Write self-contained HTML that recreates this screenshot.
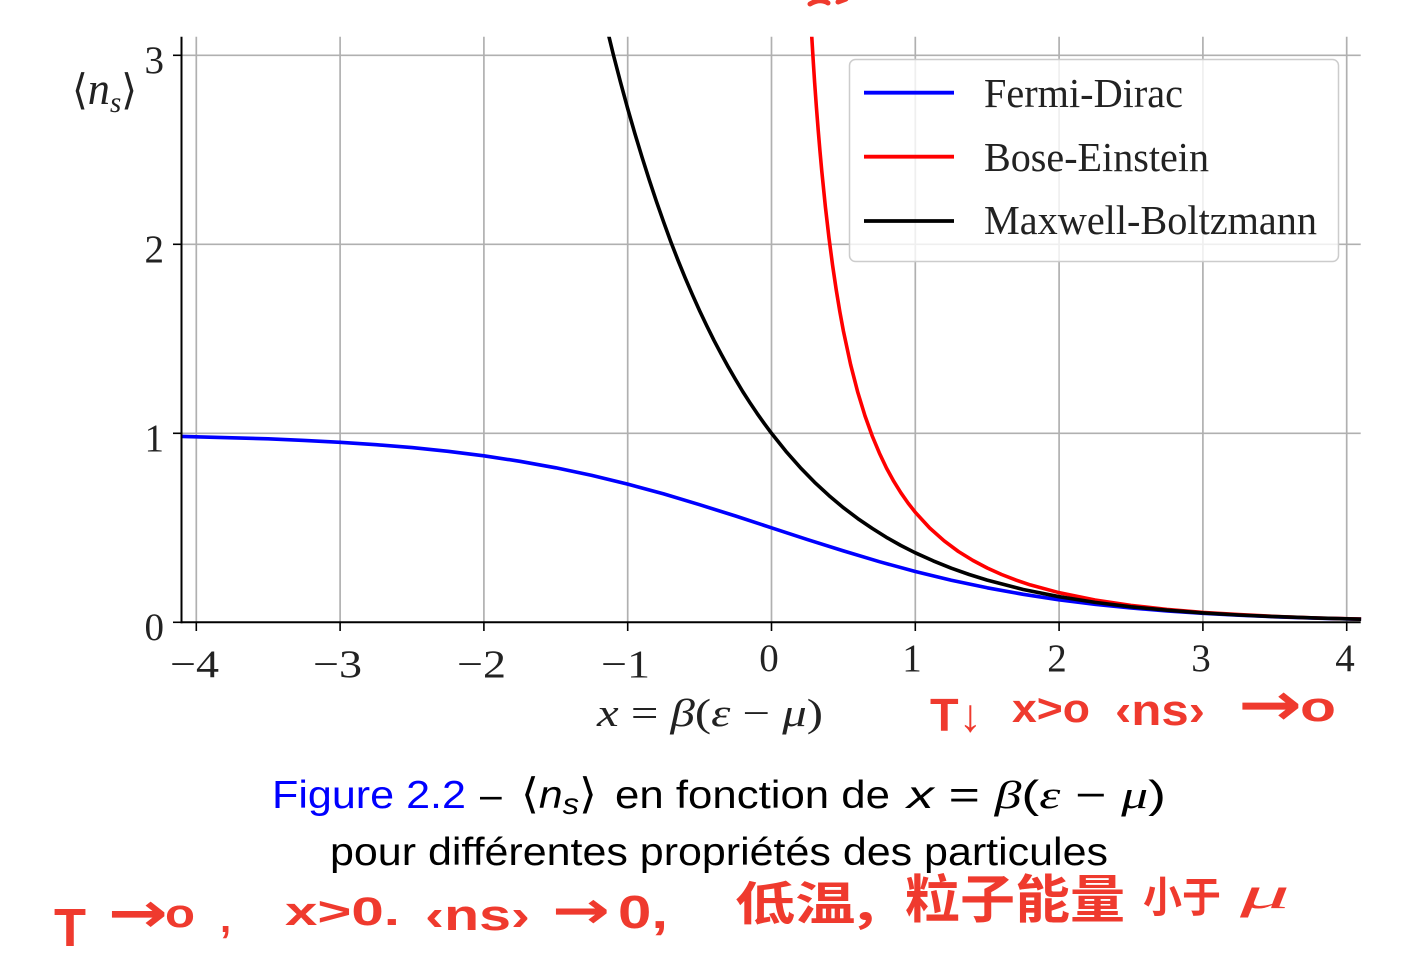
<!DOCTYPE html>
<html>
<head>
<meta charset="utf-8">
<style>
html,body{margin:0;padding:0;background:#fff;}
svg{display:block;}
</style>
</head>
<body>
<svg width="1419" height="959" viewBox="0 0 1419 959" xmlns="http://www.w3.org/2000/svg">
<defs>
<clipPath id="ax"><rect x="181.5" y="36.7" width="1180" height="586"/></clipPath>
</defs>
<rect width="1419" height="959" fill="#fff"/>

<!-- grid -->
<g stroke="#b0b0b0" stroke-width="1.7">
<line x1="196.3" y1="36.7" x2="196.3" y2="622.3"/>
<line x1="340.1" y1="36.7" x2="340.1" y2="622.3"/>
<line x1="483.9" y1="36.7" x2="483.9" y2="622.3"/>
<line x1="627.7" y1="36.7" x2="627.7" y2="622.3"/>
<line x1="771.5" y1="36.7" x2="771.5" y2="622.3"/>
<line x1="915.3" y1="36.7" x2="915.3" y2="622.3"/>
<line x1="1059.1" y1="36.7" x2="1059.1" y2="622.3"/>
<line x1="1202.9" y1="36.7" x2="1202.9" y2="622.3"/>
<line x1="1346.7" y1="36.7" x2="1346.7" y2="622.3"/>
<line x1="181.5" y1="433.3" x2="1360.7" y2="433.3"/>
<line x1="181.5" y1="244.3" x2="1360.7" y2="244.3"/>
<line x1="181.5" y1="55.3" x2="1360.7" y2="55.3"/>
</g>

<!-- curves -->
<g clip-path="url(#ax)" fill="none" stroke-width="3.6" stroke-linejoin="round" stroke-linecap="butt">
<polyline stroke="#0000ff" points="181.9,436.4 232.3,437.8 268.2,438.8 304.2,440.4 340.1,442.3 376.1,444.7 412.0,447.6 448.0,451.3 483.9,455.8 519.9,461.3 555.8,467.8 591.8,475.4 627.7,484.1 663.7,493.9 699.6,504.7 735.6,516.0 771.5,527.8 807.4,539.6 843.4,550.9 879.4,561.7 915.3,571.5 951.3,580.2 987.2,587.8 1023.2,594.3 1059.1,599.8 1095.1,604.3 1131.0,608.0 1167.0,611.0 1202.9,613.3 1238.9,615.2 1274.8,616.8 1317.9,618.2 1361.1,619.2"/>
<polyline stroke="#ff0000" points="811.4,30 811.8,37.4 813.2,60.5 814.6,82.1 816.4,107.1 818.2,130.1 820.0,151.5 821.8,171.3 825.4,206.9 829.0,238.0 832.6,265.4 836.2,289.7 839.8,311.5 843.4,331.0 850.6,364.5 857.8,392.4 865.0,415.9 872.2,435.9 879.4,453.1 886.5,468.1 893.7,481.2 900.9,492.8 908.1,503.1 915.3,512.3 929.7,528.0 944.1,540.8 958.4,551.5 972.8,560.4 987.2,568.0 1001.6,574.5 1016.0,580.1 1030.3,584.9 1059.1,592.7 1095.1,600.0 1131.0,605.4 1167.0,609.4 1202.9,612.4 1238.9,614.6 1274.8,616.4 1317.9,618.0 1361.1,619.1"/>
<polyline stroke="#000000" points="606.8,28 608.9,36.4 613.3,54.5 620.5,82.2 627.7,108.6 634.9,133.6 642.1,157.4 649.3,180.1 656.5,201.7 663.7,222.2 670.8,241.7 678.0,260.3 685.2,277.9 692.4,294.7 699.6,310.7 706.8,325.9 714.0,340.4 721.2,354.1 728.4,367.2 735.6,379.6 742.7,391.5 749.9,402.7 757.1,413.4 764.3,423.6 771.5,433.3 785.9,451.3 800.3,467.6 814.6,482.3 829.0,495.6 843.4,507.7 857.8,518.6 872.2,528.4 886.5,537.4 900.9,545.5 915.3,552.8 933.3,560.9 951.3,568.2 969.2,574.5 987.2,580.1 1023.2,589.5 1059.1,596.7 1095.1,602.4 1131.0,606.8 1167.0,610.2 1202.9,612.9 1238.9,615.0 1274.8,616.6 1317.9,618.1 1361.1,619.2"/>
</g>

<!-- spines -->
<g stroke="#000" stroke-width="2">
<line x1="181.5" y1="36.7" x2="181.5" y2="623.3"/>
<line x1="180.5" y1="622.3" x2="1360.7" y2="622.3"/>
</g>
<!-- ticks -->
<g stroke="#000" stroke-width="1.6">
<line x1="173" y1="622.3" x2="181.5" y2="622.3"/>
<line x1="173" y1="433.3" x2="181.5" y2="433.3"/>
<line x1="173" y1="244.3" x2="181.5" y2="244.3"/>
<line x1="173" y1="55.3" x2="181.5" y2="55.3"/>
<line x1="196.3" y1="622.3" x2="196.3" y2="631"/>
<line x1="340.1" y1="622.3" x2="340.1" y2="631"/>
<line x1="483.9" y1="622.3" x2="483.9" y2="631"/>
<line x1="627.7" y1="622.3" x2="627.7" y2="631"/>
<line x1="771.5" y1="622.3" x2="771.5" y2="631"/>
<line x1="915.3" y1="622.3" x2="915.3" y2="631"/>
<line x1="1059.1" y1="622.3" x2="1059.1" y2="631"/>
<line x1="1202.9" y1="622.3" x2="1202.9" y2="631"/>
<line x1="1346.7" y1="622.3" x2="1346.7" y2="631"/>
</g>

<!-- tick labels -->
<g font-family="'Liberation Serif', 'DejaVu Serif', serif" font-size="39" fill="#222">
<text x="164" y="640" text-anchor="end">0</text>
<text x="164" y="451" text-anchor="end">1</text>
<text x="164" y="262" text-anchor="end">2</text>
<text x="164" y="73" text-anchor="end">3</text>
<text x="170" y="677" textLength="49" lengthAdjust="spacingAndGlyphs">−4</text>
<text x="313" y="677" textLength="49" lengthAdjust="spacingAndGlyphs">−3</text>
<text x="457" y="677" textLength="49" lengthAdjust="spacingAndGlyphs">−2</text>
<text x="601" y="677" textLength="49" lengthAdjust="spacingAndGlyphs">−1</text>
<text x="769" y="671" text-anchor="middle">0</text>
<text x="912" y="671" text-anchor="middle">1</text>
<text x="1057" y="671" text-anchor="middle">2</text>
<text x="1201" y="671" text-anchor="middle">3</text>
<text x="1345" y="671" text-anchor="middle">4</text>
</g>

<!-- axis labels -->
<g font-family="'Liberation Serif', 'DejaVu Serif', serif" fill="#222">
<text x="72" y="104" font-size="46" textLength="65" lengthAdjust="spacingAndGlyphs"><tspan font-family="'DejaVu Serif', serif" font-size="42">⟨</tspan><tspan font-style="italic">n</tspan><tspan font-style="italic" font-size="30" dy="8">s</tspan><tspan dy="-8" font-family="'DejaVu Serif', serif" font-size="42">⟩</tspan></text>
<text x="597" y="726" font-size="39" textLength="226" lengthAdjust="spacingAndGlyphs"><tspan font-style="italic">x</tspan> = <tspan font-style="italic">β</tspan>(<tspan font-style="italic">ε</tspan> − <tspan font-style="italic">μ</tspan>)</text>
</g>

<!-- legend -->
<rect x="849.5" y="59.5" width="489" height="202" rx="6" ry="6" fill="#fff" fill-opacity="0.8" stroke="#cccccc" stroke-width="1.5"/>
<g stroke-width="3.8">
<line x1="864" y1="92.7" x2="954" y2="92.7" stroke="#0000ff"/>
<line x1="864" y1="156.7" x2="954" y2="156.7" stroke="#ff0000"/>
<line x1="864" y1="221" x2="954" y2="221" stroke="#000"/>
</g>
<g font-family="'Liberation Serif', 'DejaVu Serif', serif" font-size="41" fill="#222">
<text x="984" y="107" textLength="199" lengthAdjust="spacingAndGlyphs">Fermi-Dirac</text>
<text x="984" y="171" textLength="225" lengthAdjust="spacingAndGlyphs">Bose-Einstein</text>
<text x="984" y="234" textLength="333" lengthAdjust="spacingAndGlyphs">Maxwell-Boltzmann</text>
</g>

<!-- caption -->
<g font-family="'Liberation Sans', 'DejaVu Sans', sans-serif" font-size="39" fill="#000">
<text x="272" y="808" fill="#0000ff" textLength="194" lengthAdjust="spacingAndGlyphs">Figure 2.2</text>
<text x="480" y="808">–</text>
<text x="521" y="808" textLength="76" lengthAdjust="spacingAndGlyphs"><tspan font-family="'DejaVu Sans', sans-serif" font-size="42">⟨</tspan><tspan font-style="italic">n</tspan><tspan font-style="italic" font-size="30" dy="6">s</tspan><tspan dy="-6" font-family="'DejaVu Sans', sans-serif" font-size="42">⟩</tspan></text>
<text x="615" y="808" textLength="275" lengthAdjust="spacingAndGlyphs">en fonction de</text>
<text x="907" y="808" textLength="259" lengthAdjust="spacingAndGlyphs"><tspan font-style="italic">x</tspan> = <tspan font-style="italic" font-family="'Liberation Serif', serif">β</tspan>(<tspan font-style="italic" font-family="'Liberation Serif', serif">ε</tspan> − <tspan font-style="italic" font-family="'Liberation Serif', serif">μ</tspan>)</text>
<text x="330" y="865" textLength="778" lengthAdjust="spacingAndGlyphs">pour différentes propriétés des particules</text>
</g>

<!-- red handwriting -->
<g fill="#ef3a2e" font-family="'Liberation Sans', 'DejaVu Sans', sans-serif" font-weight="bold">
<path d="M810 4 Q820 -2 828 3 M838 2 L846 -1" fill="none" stroke="#ef3a2e" stroke-width="5" stroke-linecap="round"/>
<!-- middle line -->
<text x="930" y="731" font-size="46" textLength="52" lengthAdjust="spacingAndGlyphs">T↓</text>
<text x="1012" y="722" font-size="40" textLength="78" lengthAdjust="spacingAndGlyphs">x&gt;o</text>
<text x="1115" y="725" font-size="44" textLength="90" lengthAdjust="spacingAndGlyphs">‹ns›</text>
<text x="1238" y="725" font-size="60" font-family="'DejaVu Sans', sans-serif" textLength="64" lengthAdjust="spacingAndGlyphs">→</text>
<text x="1300" y="721" font-size="42" textLength="36" lengthAdjust="spacingAndGlyphs">o</text>
<!-- bottom line -->
<text x="54" y="946" font-size="54" textLength="32" lengthAdjust="spacingAndGlyphs">T</text>
<text x="108" y="932" font-size="56" font-family="'DejaVu Sans', sans-serif" textLength="60" lengthAdjust="spacingAndGlyphs">→</text>
<text x="165" y="927" font-size="40" textLength="30" lengthAdjust="spacingAndGlyphs">o</text>
<text x="220" y="932" font-size="40">,</text>
<text x="285" y="925" font-size="40" textLength="115" lengthAdjust="spacingAndGlyphs">x&gt;0.</text>
<text x="425" y="930" font-size="44" textLength="105" lengthAdjust="spacingAndGlyphs">‹ns›</text>
<text x="552" y="928" font-size="52" font-family="'DejaVu Sans', sans-serif" textLength="58" lengthAdjust="spacingAndGlyphs">→</text>
<text x="618" y="928" font-size="46" textLength="50" lengthAdjust="spacingAndGlyphs">0,</text>
<g font-family="'Noto Sans CJK SC', 'WenQuanYi Zen Hei', sans-serif" font-weight="bold">
<text x="735" y="920" font-size="46" textLength="140" lengthAdjust="spacingAndGlyphs">低温,</text>
<text x="905" y="918" font-size="52" textLength="220" lengthAdjust="spacingAndGlyphs">粒子能量</text>
<text x="1143" y="912" font-size="42" textLength="78" lengthAdjust="spacingAndGlyphs">小于</text>
</g>
<text x="1240" y="908" font-size="44" font-weight="normal" font-family="'Liberation Serif', serif" font-style="italic" textLength="50" lengthAdjust="spacingAndGlyphs">μ</text>
</g>
</svg>
</body>
</html>
